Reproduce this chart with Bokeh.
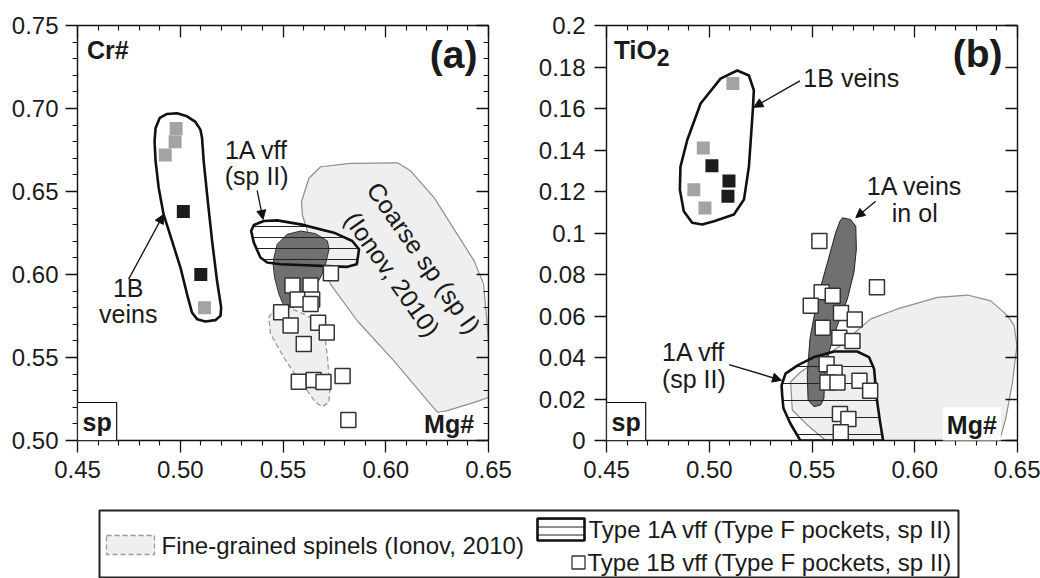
from bokeh.plotting import figure
from bokeh.models import Range1d, FixedTicker, LinearAxis, Label, Arrow, NormalHead
from bokeh.layouts import column, row
from bokeh.embed import file_html
from bokeh.resources import INLINE

FONT = "Liberation Sans"

# ---------------- Panel (a): Cr# vs Mg# ----------------
a_x_major = [0.45, 0.50, 0.55, 0.60, 0.65]
a_x_labels = ["0.45", "0.50", "0.55", "0.60", "0.65"]
a_x_minor = [0.46, 0.47, 0.48, 0.49, 0.51, 0.52, 0.53, 0.54, 0.56, 0.57, 0.58, 0.59,
             0.61, 0.62, 0.63, 0.64]
a_y_major = [0.50, 0.55, 0.60, 0.65, 0.70, 0.75]
a_y_labels = ["0.50", "0.55", "0.60", "0.65", "0.70", "0.75"]
a_y_minor = [0.51, 0.52, 0.53, 0.54, 0.56, 0.57, 0.58, 0.59, 0.61, 0.62, 0.63, 0.64,
             0.66, 0.67, 0.68, 0.69, 0.71, 0.72, 0.73, 0.74]

a_1b_gray_mg = [0.498, 0.4975, 0.4927, 0.5118]
a_1b_gray_cr = [0.688, 0.680, 0.672, 0.580]
a_1b_black_mg = [0.5015, 0.510]
a_1b_black_cr = [0.638, 0.600]
a_vff_mg = [0.5733, 0.5546, 0.5634, 0.5571, 0.5642, 0.5634, 0.5491, 0.5537, 0.5671, 0.5713,
            0.5601, 0.5577, 0.5649, 0.5697, 0.5790, 0.5818]
a_vff_cr = [0.6008, 0.5933, 0.5933, 0.5849, 0.5849, 0.5823, 0.5773, 0.5693, 0.5709, 0.5651,
            0.5581, 0.5354, 0.5365, 0.5353, 0.5389, 0.5124]

a_coarse_mg = [0.559, 0.5626, 0.5683, 0.5829, 0.6057, 0.6122, 0.6236, 0.643, 0.6476, 0.6492,
               0.6504, 0.6504, 0.643, 0.630, 0.6252, 0.6203, 0.604, 0.5862, 0.5732, 0.5634, 0.5594]
a_coarse_cr = [0.644, 0.658, 0.6649, 0.6669, 0.6673, 0.6623, 0.6462, 0.6082, 0.5942, 0.5721,
               0.552, 0.526, 0.523, 0.518, 0.517, 0.524, 0.548, 0.572, 0.594, 0.620, 0.636]
a_fine_mg = [0.5463, 0.5431, 0.5439, 0.5504, 0.5569, 0.5618, 0.5658, 0.5691, 0.5723, 0.5728,
             0.5718, 0.5707, 0.5691, 0.565, 0.5585, 0.552]
a_fine_cr = [0.5805, 0.5741, 0.5643, 0.550, 0.538, 0.530, 0.523, 0.5204, 0.523, 0.530,
             0.548, 0.560, 0.568, 0.5731, 0.5771, 0.5805]
a_dark_mg = [0.5456, 0.5472, 0.552, 0.5586, 0.5659, 0.5716, 0.5724, 0.5707, 0.5683, 0.5634,
             0.5553, 0.5504, 0.548, 0.5459, 0.5452]
a_dark_cr = [0.6102, 0.6182, 0.6242, 0.6262, 0.6246, 0.6202, 0.6152, 0.6062, 0.5982, 0.5882,
             0.5801, 0.5811, 0.5882, 0.5982, 0.6062]
a_1avff_mg = [0.5345, 0.5358, 0.5407, 0.5472, 0.5586, 0.5748, 0.5837, 0.587, 0.5859, 0.5813,
              0.5488, 0.5423, 0.539, 0.5358]
a_1avff_cr = [0.6262, 0.6298, 0.6322, 0.6326, 0.6302, 0.6252, 0.6202, 0.6152, 0.6062, 0.6046,
              0.6062, 0.6072, 0.6102, 0.6192]
a_1b_mg = [0.4875, 0.488, 0.490, 0.4936, 0.4984, 0.5033, 0.5074, 0.5098, 0.5106, 0.5114,
           0.5134, 0.5155, 0.5179, 0.5199, 0.5196, 0.5171, 0.5122, 0.5082, 0.5057, 0.5033,
           0.5001, 0.496, 0.4919, 0.4895, 0.488]
a_1b_cr = [0.6803, 0.6883, 0.6943, 0.6967, 0.6971, 0.6953, 0.6919, 0.6873, 0.6823, 0.6683,
           0.6442, 0.6202, 0.5962, 0.5801, 0.5751, 0.5725, 0.5717, 0.5731, 0.5771, 0.5882,
           0.6042, 0.6202, 0.6362, 0.6523, 0.6683]

# ---------------- Panel (b): TiO2 vs Mg# ----------------
b_x_major = [0.45, 0.50, 0.55, 0.60, 0.65]
b_x_labels = ["0.45", "0.50", "0.55", "0.60", "0.65"]
b_x_minor = a_x_minor
b_y_major = [0.0, 0.02, 0.04, 0.06, 0.08, 0.10, 0.12, 0.14, 0.16, 0.18, 0.20]
b_y_labels = ["0", "0.02", "0.04", "0.06", "0.08", "0.1", "0.12", "0.14", "0.16", "0.18", "0.2"]

b_1b_gray_mg = [0.5115, 0.4971, 0.4925, 0.4979]
b_1b_gray_ti = [0.172, 0.141, 0.1208, 0.1121]
b_1b_black_mg = [0.5013, 0.5096, 0.5091]
b_1b_black_ti = [0.1324, 0.1251, 0.1177]
b_vff_mg = [0.5536, 0.5816, 0.5547, 0.5601, 0.5494, 0.5641, 0.5708, 0.5552, 0.5633, 0.5697,
            0.5571, 0.5610, 0.5575, 0.5624, 0.5731, 0.5783, 0.5636, 0.5677, 0.5640]
b_vff_ti = [0.0961, 0.0739, 0.0714, 0.0698, 0.0650, 0.0615, 0.0583, 0.0543, 0.0495, 0.0479,
            0.0367, 0.0326, 0.0279, 0.0279, 0.0288, 0.0240, 0.0128, 0.0104, 0.0040]

b_coarse_mg = [0.5396, 0.5404, 0.5477, 0.5567, 0.6413, 0.6443, 0.6476, 0.6497, 0.6484, 0.6451,
               0.637, 0.6257, 0.611, 0.5916, 0.5786, 0.572, 0.564, 0.5543, 0.5445]
b_coarse_ti = [0.0283, 0.0147, 0.0075, 0.0, 0.0, 0.0107, 0.0283, 0.0458, 0.0554, 0.0602,
               0.0673, 0.0701, 0.069, 0.0634, 0.0586, 0.053, 0.0458, 0.0394, 0.033]
b_dark_mg = [0.5648, 0.5688, 0.5713, 0.5716, 0.5704, 0.5672, 0.5623, 0.5583, 0.5562, 0.5558,
             0.5542, 0.551, 0.5481, 0.5477, 0.549, 0.5526, 0.5575, 0.5615, 0.5636]
b_dark_ti = [0.1073, 0.1065, 0.1033, 0.0921, 0.081, 0.0682, 0.0554, 0.0426, 0.0314, 0.0203,
             0.0171, 0.0163, 0.0194, 0.0314, 0.049, 0.0682, 0.0857, 0.1001, 0.1057]
b_1avff_mg = [0.5352, 0.5371, 0.543, 0.551, 0.5608, 0.572, 0.5777, 0.5802, 0.5815, 0.5831,
              0.5846, 0.5443, 0.5394, 0.5361, 0.5355]
b_1avff_ti = [0.0266, 0.0322, 0.0362, 0.0402, 0.0429, 0.0429, 0.0402, 0.0346, 0.0203, 0.0091,
              0.0, 0.0, 0.0083, 0.0155, 0.0218]
b_1b_mg = [0.5136, 0.5193, 0.5217, 0.5212, 0.5193, 0.5169, 0.512, 0.5023, 0.4966, 0.4917,
           0.4876, 0.4857, 0.486, 0.4893, 0.4958, 0.5055]
b_1b_ti = [0.1783, 0.1759, 0.1688, 0.1592, 0.132, 0.1161, 0.1089, 0.1057, 0.1041, 0.1049,
           0.1105, 0.1209, 0.132, 0.1448, 0.1624, 0.1744]

legend_labels = ["Fine-grained spinels (Ionov, 2010)",
                 "Type 1A vff (Type F pockets, sp II)",
                 "Type 1B vff (Type F pockets, sp II)"]

# ---------------- styles ----------------
LIGHT = "#efefef"
COARSE_LINE = "#8e8e8e"
DARK = "#707070"
GRAY_SQ = "#a3a3a3"
BLACK_SQ = "#1c1c1c"
TXT = "#1a1a1a"
TICK_FS = "24px"
ANN_FS = "25px"
LEG_FS = "24px"


def base_fig(xr, yr, left, right, top, bottom):
    p = figure(width=520, height=490, x_range=Range1d(*xr), y_range=Range1d(*yr),
               x_axis_type=None, y_axis_type=None, toolbar_location=None,
               output_backend="svg", min_border_left=left, min_border_right=right,
               min_border_top=top, min_border_bottom=bottom)
    p.outline_line_color = None
    p.background_fill_color = "white"
    p.border_fill_color = "white"
    return p


def add_axes(p, xmaj, xmin, xlab, ymaj, ymin, ylab, standoff_y):
    specs = [("below", xmaj, xmin, xlab, True, 8),
             ("left", ymaj, ymin, ylab, True, standoff_y),
             ("above", xmaj, xmin, xlab, False, 0),
             ("right", ymaj, ymin, ylab, False, 0)]
    for loc, maj, mn, lab, labeled, so in specs:
        ax = LinearAxis(ticker=FixedTicker(ticks=maj, minor_ticks=mn))
        ax.axis_line_color = "#111111"
        ax.axis_line_width = 1.4
        ax.major_tick_line_color = "#111111"
        ax.minor_tick_line_color = "#111111"
        ax.major_tick_line_width = 1.3
        ax.minor_tick_line_width = 1.1
        if labeled:
            ax.major_tick_out = 12
            ax.major_tick_in = 0
            ax.minor_tick_out = 5
            ax.minor_tick_in = 0
            ax.major_label_overrides = {t: s for t, s in zip(maj, lab)}
            ax.major_label_text_font = FONT
            ax.major_label_text_font_size = TICK_FS
            ax.major_label_text_color = TXT
            ax.major_label_standoff = so
        else:
            ax.major_tick_out = 0
            ax.major_tick_in = 12
            ax.minor_tick_out = 0
            ax.minor_tick_in = 5
            ax.major_label_overrides = {t: "" for t in maj}
            ax.major_label_text_font_size = "0px"
            ax.major_label_standoff = 0
        p.add_layout(ax, loc)


def label(p, x, y, text, size=ANN_FS, align="center", bold=False, **kw):
    p.add_layout(Label(x=x, y=y, text=text, text_font=FONT, text_font_size=size,
                       text_align=align, text_baseline="middle", text_color=TXT,
                       text_font_style="bold" if bold else "normal", **kw))


def arrow(p, x0, y0, x1, y1):
    p.add_layout(Arrow(x_start=x0, y_start=y0, x_end=x1, y_end=y1, line_width=1.3,
                       line_color="#111111",
                       end=NormalHead(size=9, fill_color="#111111", line_color="#111111",
                                      line_width=1)))


def sp_box(p, x, y):
    p.add_layout(Label(x=x, y=y, text="sp", text_font=FONT, text_font_size="25px",
                       text_font_style="bold", text_color=TXT, text_align="left",
                       text_baseline="bottom", x_offset=0, y_offset=0, padding=5,
                       border_line_color="#111111", border_line_width=1.2,
                       background_fill_color="white"))


# ---------------- Panel (a) ----------------
pa = base_fig((0.45, 0.65), (0.50, 0.75), 77, 32, 24, 50)
add_axes(pa, a_x_major, a_x_minor, a_x_labels, a_y_major, a_y_minor, a_y_labels, 7)

pa.patch(a_coarse_mg, a_coarse_cr, fill_color=LIGHT, line_color=COARSE_LINE, line_width=1.2)
pa.patch(a_fine_mg, a_fine_cr, fill_color=LIGHT, line_color="#9a9a9a", line_width=1.3,
         line_dash="5 3")
pa.patch(a_dark_mg, a_dark_cr, fill_color=DARK, line_color="#333333", line_width=1)
pa.patch(a_1avff_mg, a_1avff_cr, fill_color=None, line_color="#111111", line_width=2.6,
         hatch_pattern="horizontal_line", hatch_scale=11, hatch_color="#222222",
         hatch_weight=1)
pa.patch(a_1b_mg, a_1b_cr, fill_color=None, line_color="#111111", line_width=2.6)
pa.scatter(a_vff_mg, a_vff_cr, marker="square", size=15, fill_color="white",
           line_color="#333333", line_width=1.5)
pa.scatter(a_1b_gray_mg, a_1b_gray_cr, marker="square", size=13, fill_color=GRAY_SQ,
           line_color=None)
pa.scatter(a_1b_black_mg, a_1b_black_cr, marker="square", size=13, fill_color=BLACK_SQ,
           line_color=None)

label(pa, 0.4546, 0.7354, "Cr#", size="25px", align="left", bold=True)
label(pa, 0.6446, 0.7326, "(a)", size="39px", align="right", bold=True)
label(pa, 0.643, 0.5102, "Mg#", size="25px", align="right", bold=True)
sp_box(pa, 0.45, 0.50)
label(pa, 0.4747, 0.5919, "1B")
label(pa, 0.4747, 0.5763, "veins")
arrow(pa, 0.4749, 0.5972, 0.4919, 0.6362)
label(pa, 0.5372, 0.6753, "1A vff")
label(pa, 0.5372, 0.6592, "(sp II)")
arrow(pa, 0.5374, 0.6507, 0.5403, 0.6332)
label(pa, 0.6186, 0.6101, "Coarse sp (sp I)", angle=-55, angle_units="deg")
label(pa, 0.6032, 0.6002, "(Ionov, 2010)", angle=-55, angle_units="deg")

# ---------------- Panel (b) ----------------
pb = base_fig((0.45, 0.65), (0.0, 0.20), 86, 23, 25, 48)
add_axes(pb, b_x_major, b_x_minor, b_x_labels, b_y_major, [], b_y_labels, 9)

pb.patch(b_coarse_mg, b_coarse_ti, fill_color=LIGHT, line_color=COARSE_LINE, line_width=1.2)
pb.patch(b_dark_mg, b_dark_ti, fill_color=DARK, line_color="#222222", line_width=1)
pb.patch(b_1avff_mg, b_1avff_ti, fill_color=None, line_color="#111111", line_width=2.6,
         hatch_pattern="horizontal_line", hatch_scale=17, hatch_color="#222222",
         hatch_weight=1)
pb.patch(b_1b_mg, b_1b_ti, fill_color=None, line_color="#111111", line_width=2.6)
pb.scatter(b_vff_mg, b_vff_ti, marker="square", size=15, fill_color="white",
           line_color="#333333", line_width=1.5)
pb.scatter(b_1b_gray_mg, b_1b_gray_ti, marker="square", size=13, fill_color=GRAY_SQ,
           line_color=None)
pb.scatter(b_1b_black_mg, b_1b_black_ti, marker="square", size=13, fill_color=BLACK_SQ,
           line_color=None)

label(pb, 0.4536, 0.1882, "TiO", size="26px", align="left", bold=True)
label(pb, 0.4745, 0.1845, "2", size="23px", align="left", bold=True)
label(pb, 0.6427, 0.1864, "(b)", size="39px", align="right", bold=True)
pb.add_layout(Label(x=0.6419, y=0.0075, text="Mg#", text_font=FONT, text_font_size="25px",
                    text_font_style="bold", text_color=TXT, text_align="right",
                    text_baseline="middle", padding=4, background_fill_color="white"))
sp_box(pb, 0.45, 0.0)
label(pb, 0.5458, 0.1745, "1B veins", align="left")
arrow(pb, 0.5441, 0.1733, 0.5217, 0.1606)
label(pb, 0.600, 0.1225, "1A veins")
label(pb, 0.600, 0.1098, "in ol")
arrow(pb, 0.581, 0.1153, 0.5713, 0.1074)
label(pb, 0.4925, 0.0426, "1A vff")
label(pb, 0.4925, 0.0298, "(sp II)")
arrow(pb, 0.5096, 0.0366, 0.5352, 0.029)

# ---------------- Legend box ----------------
lg = figure(width=1040, height=88, x_range=Range1d(0, 859), y_range=Range1d(0, 68),
            x_axis_type=None, y_axis_type=None, toolbar_location=None, output_backend="svg",
            min_border_left=99, min_border_right=82, min_border_top=20, min_border_bottom=0)
lg.outline_line_color = "#222222"
lg.outline_line_width = 2
lg.quad(left=[7], right=[55], bottom=[24], top=[43], fill_color=LIGHT, line_color="#9a9a9a",
        line_width=1.3, line_dash="5 3")
lg.quad(left=[438], right=[485], bottom=[38], top=[60], fill_color=None, line_color="#111111",
        line_width=2.6, hatch_pattern="horizontal_line", hatch_scale=8, hatch_color="#222222",
        hatch_weight=1)
lg.scatter([479], [16], marker="square", size=13, fill_color="white", line_color="#333333",
           line_width=1.3)
label(lg, 62, 33.5, legend_labels[0], size=LEG_FS, align="left")
label(lg, 489, 49.5, legend_labels[1], size=LEG_FS, align="left")
label(lg, 488, 16.5, legend_labels[2], size=LEG_FS, align="left")

layout = column(row(pa, pb), lg)
open("out.html", "w").write(file_html(layout, INLINE))
